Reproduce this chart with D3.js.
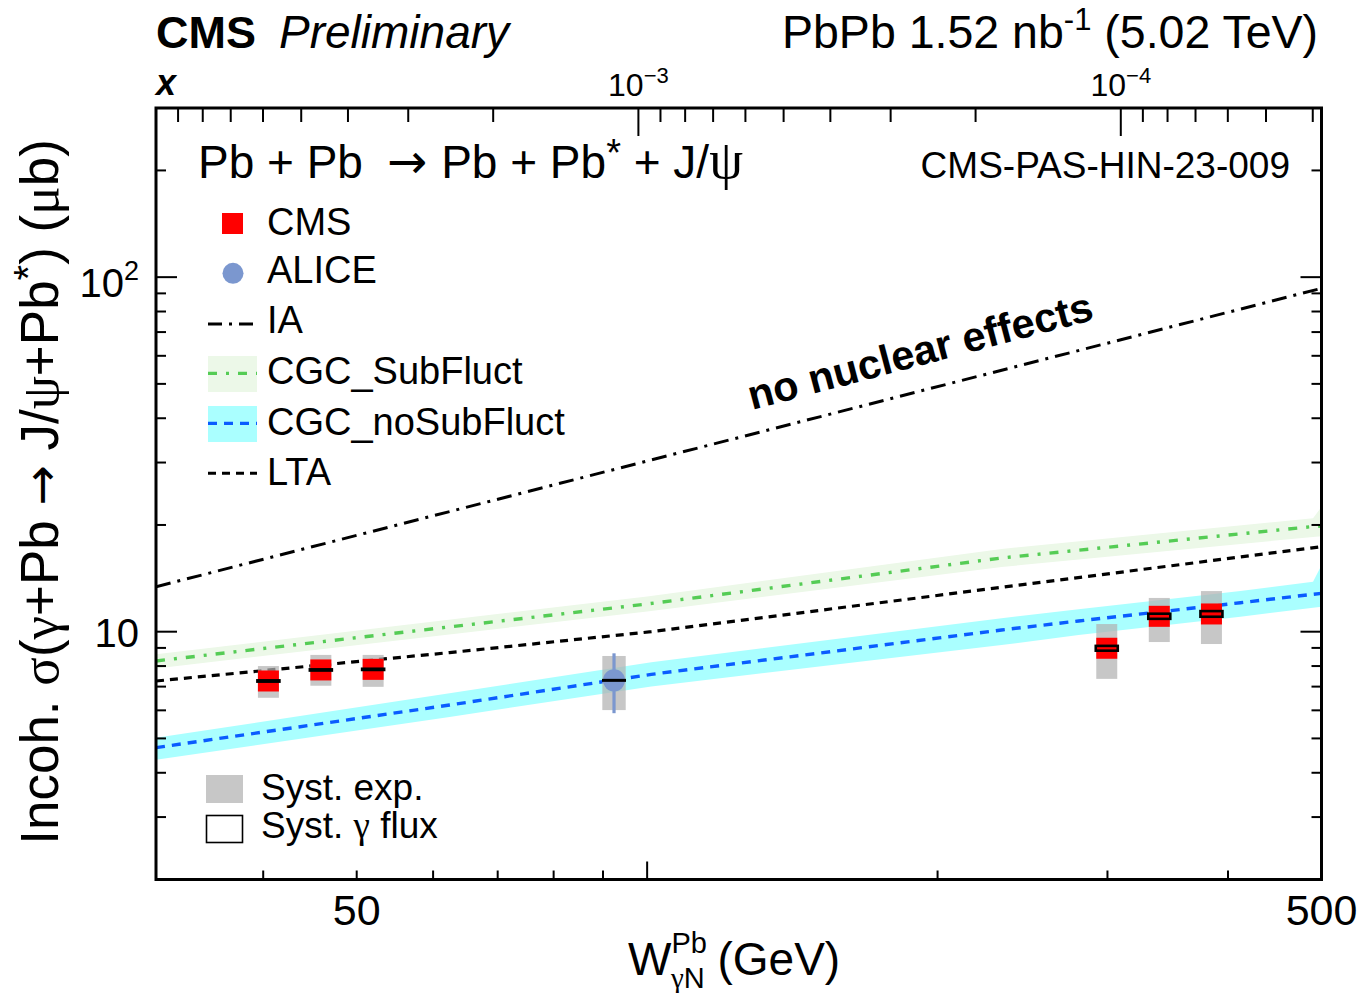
<!DOCTYPE html>
<html><head><meta charset="utf-8">
<script src="https://cdn.jsdelivr.net/npm/d3@7"></script>
<style>
body{margin:0;background:#fff}
svg{display:block}
text{font-family:"Liberation Sans",Arial,Helvetica,sans-serif;fill:#000}
.gr{font-family:"Liberation Serif","DejaVu Serif",serif}
.ar{font-family:"DejaVu Sans",sans-serif}
</style>
</head><body>
<svg id="c" width="1360" height="993"></svg>
<script>
// ---------------- data ----------------
const M_JPSI = 3.097;               // GeV, used for x = (M/W)^2 top axis
const W_RANGE = [30.97, 500];
const SIGMA_RANGE = [2, 300];

// CMS points
const cmsW      = [40.5, 45.9, 52.0, 299.5, 339.5, 384.5];
const cmsSigma  = [7.26, 7.80, 7.83, 8.98, 11.05, 11.22];
const cmsSystLo = [6.51, 7.04, 6.99, 7.36, 9.35, 9.23];
const cmsSystHi = [8.00, 8.60, 8.60, 10.51, 12.45, 13.02];
const cmsFluxLo = [7.23, 7.77, 7.80, 8.84, 10.87, 11.02];
const cmsFluxHi = [7.29, 7.83, 7.86, 9.12, 11.24, 11.43];

// ALICE point
const aliceW      = [92.4];
const aliceSigma  = [7.29];
const aliceStatLo = [5.89];
const aliceStatHi = [8.69];
const aliceSystLo = [6.01];
const aliceSystHi = [8.54];

// Models
const iaW     = [30.97, 100, 500];
const iaSigma = [13.39, 30.3, 93.0];

const subW     = [30.97, 100, 233, 490, 500];
const subSigma = [8.27, 11.97, 16.14, 19.80, 19.87];
const subLo    = [7.88, 11.40, 15.22, 18.50, 18.60];
const subHi    = [8.64, 12.57, 17.12, 20.90, 22.50];

const noSubW     = [30.97, 62.4, 101, 233, 280, 412, 490, 500];
const noSubSigma = [4.71, 6.21, 7.58, 10.11, 10.72, 12.07, 12.75, 12.83];
const noSubLo    = [4.35, 5.75, 7.01, 9.17, 9.79, 11.02, 11.69, 11.76];
const noSubHi    = [5.02, 6.70, 8.20, 10.91, 11.57, 13.02, 13.84, 15.40];

const ltaW     = [30.97, 62.4, 101, 233, 500];
const ltaSigma = [7.26, 8.73, 10.0, 13.34, 17.37];

// ticks
const yMajor = [10, 100];
const yMinor = [2,3,4,5,6,7,8,9,20,30,40,50,60,70,80,90,200,300];
const xMajor = [100];
const xMinor = [40,50,60,70,80,90,200,300,400];
const xLabels = [50, 500];
const topMajor = [1e-3, 1e-4];
const topMinor = [9e-3,8e-3,7e-3,6e-3,5e-3,4e-3,3e-3,2e-3,9e-4,8e-4,7e-4,6e-4,5e-4,4e-4,3e-4,2e-4,9e-5,8e-5,7e-5,6e-5,5e-5,4e-5];
const topLabels = [[1e-3,"\u22123"],[1e-4,"\u22124"]];

// ---------------- drawing ----------------
const svg = d3.select("#c");
const L=156, R=1321.5, T=108, B=879.5;
const x = d3.scaleLog().domain(W_RANGE).range([L,R]);
const y = d3.scaleLog().domain(SIGMA_RANGE).range([B,T]);
const wOfX = v => M_JPSI/Math.sqrt(v);

const C = {
  subBand:"#ecf8e8", subLine:"#55cc55",
  noSubBand:"#aaffff", noSubLine:"#0a5cff",
  red:"#ff0000", alice:"#7b97cf"
};

svg.append("defs").append("clipPath").attr("id","clip")
  .append("rect").attr("x",L).attr("y",T).attr("width",R-L).attr("height",B-T);
const g = svg.append("g").attr("clip-path","url(#clip)");

const area = (W,lo,hi)=>d3.area().x((d,i)=>x(W[i])).y0((d,i)=>y(lo[i])).y1((d,i)=>y(hi[i]))(W);
const line = (W,s)=>d3.line().x((d,i)=>x(W[i])).y((d,i)=>y(s[i]))(W);

g.append("path").attr("d",area(subW,subLo,subHi)).attr("fill",C.subBand);
g.append("path").attr("d",area(noSubW,noSubLo,noSubHi)).attr("fill",C.noSubBand);

g.append("path").attr("d",line(iaW,iaSigma)).attr("fill","none").attr("stroke","#000")
  .attr("stroke-width",3).attr("stroke-dasharray","15,7,3,7");
g.append("path").attr("d",line(subW,subSigma)).attr("fill","none").attr("stroke",C.subLine)
  .attr("stroke-width",3.4).attr("stroke-dasharray","9,9,3,9");
g.append("path").attr("d",line(ltaW,ltaSigma)).attr("fill","none").attr("stroke","#000")
  .attr("stroke-width",3.2).attr("stroke-dasharray","8,6");
g.append("path").attr("d",line(noSubW,noSubSigma)).attr("fill","none").attr("stroke",C.noSubLine)
  .attr("stroke-width",3.4).attr("stroke-dasharray","9,7");

// syst exp boxes (semi-transparent grey)
const grey = {fill:"rgb(178,178,178)", op:0.72};
cmsW.forEach((w,i)=>{
  g.append("rect").attr("x",x(w)-10.5).attr("width",21)
   .attr("y",y(cmsSystHi[i])).attr("height",y(cmsSystLo[i])-y(cmsSystHi[i]))
   .attr("fill",grey.fill).attr("fill-opacity",grey.op);
});
aliceW.forEach((w,i)=>{
  g.append("rect").attr("x",x(w)-11.7).attr("width",23.4)
   .attr("y",y(aliceSystHi[i])).attr("height",y(aliceSystLo[i])-y(aliceSystHi[i]))
   .attr("fill",grey.fill).attr("fill-opacity",grey.op);
  g.append("line").attr("x1",x(w)).attr("x2",x(w)).attr("y1",y(aliceStatHi[i])).attr("y2",y(aliceStatLo[i]))
   .attr("stroke",C.alice).attr("stroke-width",3.2);
  g.append("circle").attr("cx",x(w)).attr("cy",y(aliceSigma[i])).attr("r",11).attr("fill",C.alice);
  g.append("line").attr("x1",x(w)-12).attr("x2",x(w)+12).attr("y1",y(aliceSigma[i])).attr("y2",y(aliceSigma[i]))
   .attr("stroke","#000").attr("stroke-width",3);
});
cmsW.forEach((w,i)=>{
  g.append("rect").attr("x",x(w)-10.5).attr("y",y(cmsSigma[i])-10.5).attr("width",21).attr("height",21).attr("fill",C.red);
});
cmsW.forEach((w,i)=>{
  g.append("rect").attr("x",x(w)-11).attr("width",22)
   .attr("y",y(cmsFluxHi[i])).attr("height",Math.max(0.5,y(cmsFluxLo[i])-y(cmsFluxHi[i])))
   .attr("fill","none").attr("stroke","#000").attr("stroke-width",2.6);
});

// frame
svg.append("rect").attr("x",L).attr("y",T).attr("width",R-L).attr("height",B-T)
  .attr("fill","none").attr("stroke","#000").attr("stroke-width",3);

const tk = svg.append("g").attr("stroke","#000").attr("stroke-width",2);
yMajor.forEach(v=>{ tk.append("line").attr("x1",L).attr("x2",L+21).attr("y1",y(v)).attr("y2",y(v));
                    tk.append("line").attr("x1",R).attr("x2",R-21).attr("y1",y(v)).attr("y2",y(v)); });
yMinor.forEach(v=>{ tk.append("line").attr("x1",L).attr("x2",L+10).attr("y1",y(v)).attr("y2",y(v));
                    tk.append("line").attr("x1",R).attr("x2",R-10).attr("y1",y(v)).attr("y2",y(v)); });
xMajor.forEach(v=>tk.append("line").attr("x1",x(v)).attr("x2",x(v)).attr("y1",B).attr("y2",B-18));
xMinor.forEach(v=>tk.append("line").attr("x1",x(v)).attr("x2",x(v)).attr("y1",B).attr("y2",B-9));
topMajor.forEach(v=>tk.append("line").attr("x1",x(wOfX(v))).attr("x2",x(wOfX(v))).attr("y1",T).attr("y2",T+28));
topMinor.forEach(v=>tk.append("line").attr("x1",x(wOfX(v))).attr("x2",x(wOfX(v))).attr("y1",T).attr("y2",T+14));

// tick labels
xLabels.forEach(v=>svg.append("text").attr("x",x(v)).attr("y",925).attr("text-anchor","middle")
  .attr("font-size",43).text(v));
svg.append("text").attr("x",139).attr("y",y(10)+15).attr("text-anchor","end").attr("font-size",40).text("10");
const t2 = svg.append("text").attr("x",139).attr("y",y(100)+20).attr("text-anchor","end").attr("font-size",40);
t2.append("tspan").text("10");
t2.append("tspan").attr("font-size",27).attr("dy",-17).text("2");
topLabels.forEach(([v,s])=>{
  const t = svg.append("text").attr("x",x(wOfX(v))).attr("y",96).attr("text-anchor","middle").attr("font-size",32);
  t.append("tspan").text("10");
  t.append("tspan").attr("font-size",22).attr("dy",-13).text(s);
});
svg.append("text").attr("x",156).attr("y",95).attr("font-size",36).attr("font-weight","bold")
  .attr("font-style","italic").attr("font-family","Liberation Serif, serif").text("x");

// titles
svg.append("text").attr("x",156).attr("y",48).attr("font-size",45).attr("font-weight","bold").text("CMS");
svg.append("text").attr("x",279).attr("y",48).attr("font-size",46).attr("font-style","italic").text("Preliminary");
const tr = svg.append("text").attr("x",1318).attr("y",48).attr("text-anchor","end").attr("font-size",46.5);
tr.append("tspan").text("PbPb 1.52 nb");
tr.append("tspan").attr("font-size",31).attr("dy",-18).text("-1");
tr.append("tspan").attr("dy",18).text(" (5.02 TeV)");

const pr = svg.append("text").attr("x",198).attr("y",178).attr("font-size",46);
pr.append("tspan").text("Pb + Pb");
pr.append("tspan").attr("class","ar").attr("dx",24).attr("font-size",48).text("\u2192");
pr.append("tspan").attr("dx",14).text("Pb + Pb");
pr.append("tspan").attr("dy",-12).attr("font-size",38).text("*");
pr.append("tspan").attr("dy",12).text(" + J/");
pr.append("tspan").attr("class","gr").attr("font-size",54).text("\u03c8");
svg.append("text").attr("x",1290).attr("y",178).attr("text-anchor","end").attr("font-size",37)
  .attr("font-family","Open Sans, sans-serif").text("CMS-PAS-HIN-23-009");

// axis titles
const yl = svg.append("text").attr("transform","translate(58,492) rotate(-90)").attr("text-anchor","middle").attr("font-size",53);
yl.append("tspan").text("Incoh. ");
yl.append("tspan").attr("class","gr").text("\u03c3");
yl.append("tspan").text("(");
yl.append("tspan").attr("class","gr").text("\u03b3");
yl.append("tspan").text("+Pb ");
yl.append("tspan").attr("class","ar").attr("font-size",48).text("\u2192");
yl.append("tspan").text(" J/");
yl.append("tspan").attr("class","gr").text("\u03c8");
yl.append("tspan").text("+Pb");
yl.append("tspan").attr("dy",-16).attr("font-size",40).text("*");
yl.append("tspan").attr("dy",16).text(") (");
yl.append("tspan").attr("class","gr").text("\u03bc");
yl.append("tspan").text("b)");

const xl = svg.append("text").attr("x",628).attr("y",975).attr("font-size",46);
xl.append("tspan").text("W");
xl.append("tspan").attr("font-size",29).attr("dy",-22).text("Pb");
xl.append("tspan").attr("font-size",29).attr("dx",-36).attr("dy",35).attr("class","gr").text("\u03b3");
xl.append("tspan").attr("font-size",29).text("N");
xl.append("tspan").attr("dy",-13).text("  (GeV)");

svg.append("text").attr("transform","translate(752,410) rotate(-14.8)").attr("font-size",41.5)
  .attr("font-weight","bold").attr("font-family","Open Sans, sans-serif").text("no nuclear effects");

// legend
const lg = svg.append("g");
lg.append("rect").attr("x",222).attr("y",213).attr("width",21).attr("height",21).attr("fill",C.red);
lg.append("circle").attr("cx",233).attr("cy",273.3).attr("r",10.5).attr("fill",C.alice);
lg.append("line").attr("x1",208).attr("x2",257).attr("y1",324).attr("y2",324).attr("stroke","#000")
  .attr("stroke-width",3).attr("stroke-dasharray","14,7,3,7");
lg.append("rect").attr("x",208).attr("y",356).attr("width",49).attr("height",36).attr("fill",C.subBand);
lg.append("line").attr("x1",208).attr("x2",257).attr("y1",373.3).attr("y2",373.3).attr("stroke",C.subLine)
  .attr("stroke-width",3.2).attr("stroke-dasharray","9,9,3,9");
lg.append("rect").attr("x",208).attr("y",406).attr("width",49).attr("height",36).attr("fill",C.noSubBand);
lg.append("line").attr("x1",208).attr("x2",257).attr("y1",423.3).attr("y2",423.3).attr("stroke",C.noSubLine)
  .attr("stroke-width",3.2).attr("stroke-dasharray","9,7");
lg.append("line").attr("x1",208).attr("x2",257).attr("y1",473.3).attr("y2",473.3).attr("stroke","#000")
  .attr("stroke-width",3).attr("stroke-dasharray","8,6");
const legNames = ["CMS","ALICE","IA","CGC_SubFluct","CGC_noSubFluct","LTA"];
const legBase = [235,282.7,333.3,384,435,485];
legNames.forEach((n,i)=>lg.append("text").attr("x",267).attr("y",legBase[i]).attr("font-size",38).text(n));

lg.append("rect").attr("x",206).attr("y",775).attr("width",37).attr("height",28).attr("fill",grey.fill).attr("fill-opacity",grey.op);
lg.append("rect").attr("x",206.5).attr("y",815.5).attr("width",36).attr("height",27).attr("fill","none").attr("stroke","#000").attr("stroke-width",1.6);
lg.append("text").attr("x",261).attr("y",800).attr("font-size",37).text("Syst. exp.");
const sf = lg.append("text").attr("x",261).attr("y",838).attr("font-size",37);
sf.append("tspan").text("Syst. ");
sf.append("tspan").attr("class","gr").text("\u03b3");
sf.append("tspan").text("  flux");
</script>
</body></html>
